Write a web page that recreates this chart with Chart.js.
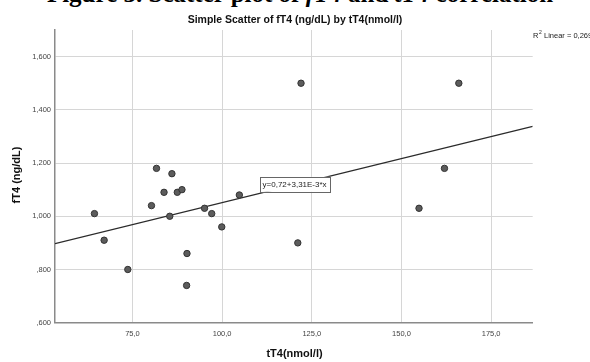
<!DOCTYPE html>
<html>
<head>
<meta charset="utf-8">
<script src="https://cdn.jsdelivr.net/npm/chart.js@4/dist/chart.umd.min.js"></script>
<style>
  html, body { margin: 0; padding: 0; background: #fff; }
  #wrap { position: relative; width: 590px; height: 362px; overflow: hidden; }
  #caption {
    position: absolute; left: 0; width: 600px; top: -19px;
    font: bold 25px "Liberation Serif", "DejaVu Serif", serif;
    line-height: 25px; text-align: center; color: #000; white-space: nowrap;
  }
  canvas { position: absolute; left: 0; top: 0; }
</style>
</head>
<body>
<div id="wrap">
  <div id="caption">Figure 3. Scatter plot of <i>fT4</i> and <i>tT4</i> correlation</div>
  <canvas id="chart" width="590" height="362"></canvas>
</div>
<script>
// values
const TT4 = [64.4, 67.1, 73.7, 80.3, 81.7, 83.8, 85.4, 86.0, 87.5, 88.8, 90.2,
             90.1, 95.1, 97.1, 99.9, 104.8, 121.1, 122.0, 154.9, 162.0, 166.0];
const FT4 = [1.01, 0.91, 0.80, 1.04, 1.18, 1.09, 1.00, 1.16, 1.09, 1.10, 0.86,
             0.74, 1.03, 1.01, 0.96, 1.08, 0.90, 1.50, 1.03, 1.18, 1.50];

const X_TICKS = [75, 100, 125, 150, 175];
const Y_TICKS = [0.6, 0.8, 1.0, 1.2, 1.4, 1.6];
const X_MIN = 53.4, X_MAX = 186.6;
const Y_MIN = 0.6, Y_MAX = 1.7;

// fit line as printed on the chart
const FIT_A = 0.72, FIT_B = 0.00331;
const FIT_LABEL = 'y=0,72+3,31E-3*x';
const R2_LABEL = '0,269';

const TITLE = 'Simple Scatter of fT4 (ng/dL) by tT4(nmol/l)';
const X_TITLE = 'tT4(nmol/l)';
const Y_TITLE = 'fT4 (ng/dL)';

// ── HELPERS ───────────────────────────────────────────────────────────────────

function fmtY(v) {
  let s = v.toFixed(3).replace('.', ',');
  if (s.startsWith('0')) s = s.slice(1);
  return s;
}
function fmtX(v) { return v.toFixed(1).replace('.', ','); }

const points = TT4.map((x, i) => ({ x: x, y: FT4[i] }));
const fitLine = [X_MIN, X_MAX].map(x => ({ x: x, y: FIT_A + FIT_B * x }));

const FONT = '"Liberation Sans", Arial, sans-serif';

// ── TEXT / ANNOTATION PLUGIN ──────────────────────────────────────────────────

const decor = {
  id: 'decor',
  afterDatasetsDraw(chart) {
    const ctx = chart.ctx;
    const xs = chart.scales.x, ys = chart.scales.y;
    ctx.save();

    // equation box over the fit line
    ctx.font = '8px ' + FONT;
    const tw = ctx.measureText(FIT_LABEL).width;
    const cx = xs.getPixelForValue(120.2), cy = ys.getPixelForValue(1.12);
    const bw = tw + 6, bh = 15;
    ctx.fillStyle = '#fff';
    ctx.fillRect(cx - bw / 2, cy - bh / 2, bw, bh);
    ctx.strokeStyle = '#666';
    ctx.lineWidth = 1;
    ctx.strokeRect(Math.round(cx - bw / 2) + 0.5, Math.round(cy - bh / 2) + 0.5, Math.round(bw), bh);
    ctx.fillStyle = '#222';
    ctx.textAlign = 'center';
    ctx.textBaseline = 'middle';
    ctx.fillText(FIT_LABEL, cx, cy + 0.5);

    // chart title
    ctx.font = 'bold 10.5px ' + FONT;
    ctx.fillStyle = '#111';
    ctx.fillText(TITLE, 295, 20.5);

    // axis titles
    ctx.font = 'bold 11px ' + FONT;
    ctx.fillText(X_TITLE, 294.5, 354);
    ctx.save();
    ctx.translate(17, 175);
    ctx.rotate(-Math.PI / 2);
    ctx.fillText(Y_TITLE, 0, 0);
    ctx.restore();

    // R² note, top right
    ctx.textAlign = 'left';
    ctx.font = '7.5px ' + FONT;
    ctx.fillStyle = '#222';
    ctx.fillText('R', 533, 36);
    const rw = ctx.measureText('R').width;
    ctx.font = '5px ' + FONT;
    ctx.fillText('2', 533 + rw + 0.5, 33);
    ctx.font = '7.5px ' + FONT;
    ctx.fillText(' Linear = ' + R2_LABEL, 533 + rw + 3.5, 36);

    ctx.restore();
  }
};

// ── CHART ─────────────────────────────────────────────────────────────────────

new Chart(document.getElementById('chart'), {
  type: 'scatter',
  data: {
    datasets: [
      {
        label: 'fit',
        type: 'line',
        data: fitLine,
        borderColor: '#2b2b2b',
        borderWidth: 1.2,
        pointRadius: 0,
        fill: false,
        order: 2
      },
      {
        label: 'fT4',
        data: points,
        backgroundColor: '#5c5c5c',
        borderColor: '#333',
        borderWidth: 1,
        pointRadius: 3.2,
        order: 1
      }
    ]
  },
  options: {
    responsive: false,
    animation: false,
    devicePixelRatio: 1,
    layout: { padding: { left: 0, top: 30, right: 57.3, bottom: 0 } },
    plugins: { legend: { display: false }, tooltip: { enabled: false } },
    scales: {
      x: {
        type: 'linear',
        min: X_MIN, max: X_MAX,
        afterBuildTicks: s => { s.ticks = X_TICKS.map(v => ({ value: v })); },
        afterFit: s => { s.height = 39.3; },
        grid: { color: '#d6d6d6', lineWidth: 1, drawTicks: false },
        border: { color: '#8a8a8a', width: 1.5 },
        ticks: {
          padding: 7, color: '#444', maxRotation: 0,
          font: { family: FONT, size: 7.5 },
          callback: v => fmtX(v)
        }
      },
      y: {
        type: 'linear',
        min: Y_MIN, max: Y_MAX,
        afterBuildTicks: s => { s.ticks = Y_TICKS.map(v => ({ value: v })); },
        afterFit: s => { s.width = 55; },
        grid: { color: '#d6d6d6', lineWidth: 1, drawTicks: false },
        border: { color: '#8a8a8a', width: 1.5 },
        ticks: {
          padding: 4, color: '#444',
          font: { family: FONT, size: 7.5 },
          callback: v => fmtY(v)
        }
      }
    }
  },
  plugins: [decor]
});
</script>
</body>
</html>
